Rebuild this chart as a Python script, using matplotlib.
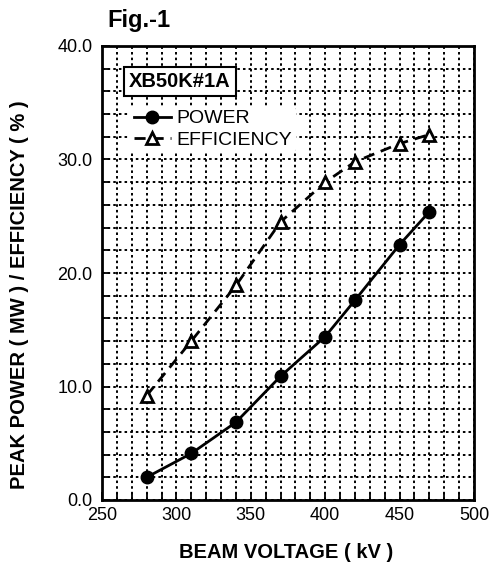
import matplotlib
matplotlib.use("Agg")
import matplotlib.pyplot as plt
from matplotlib.ticker import MultipleLocator, FormatStrFormatter

plt.rcParams['font.family'] = ['Liberation Sans', 'DejaVu Sans']

voltage = [280, 310, 340, 370, 400, 420, 450, 470]
power = [2.0, 4.1, 6.85, 10.9, 14.4, 17.6, 22.5, 25.4]
efficiency = [9.2, 14.0, 18.9, 24.5, 28.0, 29.8, 31.4, 32.2]

x_ticks = [250, 300, 350, 400, 450, 500]
y_ticks = [0, 10, 20, 30, 40]

fig = plt.figure(figsize=(4.91, 5.63), dpi=100)
ax = fig.add_axes([102/491, 1-500/563, 372/491, 454/563])

ax.set_xlim(250, 500)
ax.set_ylim(0, 40)
ax.set_xticks(x_ticks)
ax.set_yticks(y_ticks)
ax.xaxis.set_minor_locator(MultipleLocator(10))
ax.yaxis.set_minor_locator(MultipleLocator(2))
ax.yaxis.set_major_formatter(FormatStrFormatter('%.1f'))
ax.grid(which='both', color='black', linestyle=(0, (1.3, 1.6)), linewidth=1.4)
ax.set_axisbelow(True)
ax.tick_params(which='both', direction='in', labelsize=13, width=1.3)
ax.tick_params(which='major', length=6)
ax.tick_params(which='minor', length=5)
ax.tick_params(axis='x', which='major', pad=5)
ax.tick_params(axis='y', which='major', pad=7)
for s in ax.spines.values():
    s.set_linewidth(2)

ax.plot(voltage, power, color='black', linewidth=2.0, marker='o', markersize=9,
        label='POWER', zorder=3)
ax.plot(voltage, efficiency, color='black', linewidth=2.0, linestyle=(0, (4, 2.5)),
        marker='^', markersize=9, markerfacecolor='white', markeredgewidth=2.0,
        label='EFFICIENCY', zorder=3)

ax.set_xlabel('BEAM VOLTAGE ( kV )', fontsize=14.5, fontweight='bold')
ax.xaxis.set_label_coords(0.495, -0.095)
ax.set_ylabel('PEAK POWER ( MW ) / EFFICIENCY ( % )', fontsize=14.5, fontweight='bold')
ax.yaxis.set_label_coords(-0.195, 0.4515)

ax.text(0.073, 0.922, 'XB50K#1A', transform=ax.transAxes, fontsize=14.5,
        fontweight='bold', ha='left', va='center', zorder=5,
        bbox=dict(boxstyle='square,pad=0.25', facecolor='white', edgecolor='black', linewidth=1.5))

leg = ax.legend(loc='upper left', bbox_to_anchor=(0.075, 0.868), frameon=True,
                fontsize=14, handlelength=1.9, handletextpad=0.3,
                labelspacing=0.2, borderpad=0.2, borderaxespad=0)
leg.get_frame().set_linewidth(0)
leg.get_frame().set_facecolor('white')
leg.get_frame().set_alpha(1)

fig.text(107/491, 1-20/563, 'Fig.-1', fontsize=17, fontweight='bold', ha='left', va='center')

fig.savefig('out.png', dpi=100)
